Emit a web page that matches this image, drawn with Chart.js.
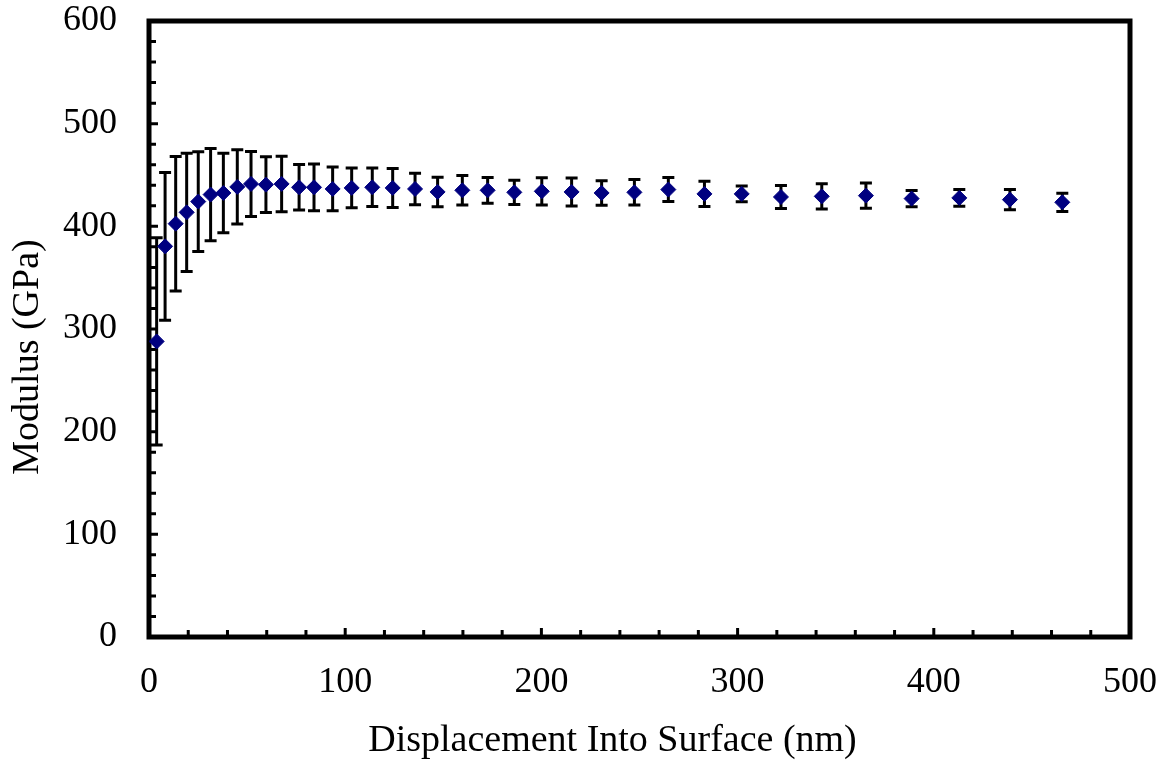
<!DOCTYPE html>
<html>
<head>
<meta charset="utf-8">
<title>Modulus vs Displacement Into Surface</title>
<script src="https://cdn.jsdelivr.net/npm/chart.js@4.4.1/dist/chart.umd.min.js"></script>
<style>
  body { margin: 0; background: #fff; }
  #wrap { width: 1165px; height: 761px; position: relative; }
</style>
</head>
<body>
<div id="wrap"><canvas id="modulusChart"></canvas></div>
<script>
// displacement into surface (nm)
const depth = [3.9, 8.2, 13.6, 19.2, 25.1, 31.4, 37.9, 45, 52, 59.6, 67.6, 76.5,
    84.1, 93.6, 103.3, 113.8, 124.2, 135.6, 147.1, 159.7, 172.6, 186.2, 200.2, 215.4,
    230.7, 247.4, 264.7, 283.1, 302.1, 322.1, 342.9, 365.4, 388.7, 413, 438.8, 465.5];
// modulus (GPa)
const modulus = [287.9, 380.5, 402.6, 413.6, 424.1, 430.9, 432.5, 438.4, 441.3, 440.6, 441.3, 438,
    438, 436.4, 437.4, 438, 437.4, 436.4, 433.5, 435.1, 435.1, 433.1, 434.1, 433.5,
    432.5, 433.1, 435.8, 431.6, 431.6, 428.6, 429.2, 429.9, 427, 427.7, 426, 423.4];
// standard deviation (GPa)
const modulusErr = [101, 72, 65.5, 57.5, 48.5, 45, 38.8, 36.2, 31.7, 27.1, 27, 22.2,
    22.7, 21.3, 19.3, 18.8, 19, 15.4, 14.4, 14.4, 12.5, 11.9, 13.3, 13.6,
    12, 12.4, 11.7, 12.3, 7.6, 11.2, 12.3, 12.2, 7.9, 8.1, 9.9, 8.9];

const xTicks = [0, 100, 200, 300, 400, 500];
const yTicks = [0, 100, 200, 300, 400, 500, 600];

const xLabel = 'Displacement Into Surface (nm)';
const yLabel = 'Modulus (GPa)';

const serif = "'Times New Roman', 'Liberation Serif', serif";
Chart.defaults.font.family = serif;
Chart.defaults.color = '#000';

// frame, inward minor ticks, error bars and axis titles
const axesAndErrors = {
    id: 'axesAndErrors',
    beforeDatasetsDraw(chart) {
        const ctx = chart.ctx;
        const a = chart.chartArea;
        const xs = chart.scales.x, ys = chart.scales.y;
        ctx.save();
        ctx.strokeStyle = '#000';
        ctx.lineWidth = 5;
        ctx.lineJoin = 'miter';
        ctx.strokeRect(a.left, a.top, a.right - a.left, a.bottom - a.top);

        ctx.lineWidth = 3;
        ctx.beginPath();
        for (let v = 20; v < 500; v += 20) {
            const px = xs.getPixelForValue(v);
            const len = v % 100 === 0 ? 9 : 7;
            ctx.moveTo(px, a.bottom);
            ctx.lineTo(px, a.bottom - len);
        }
        for (let v = 20; v < 600; v += 20) {
            const py = ys.getPixelForValue(v);
            const len = v % 100 === 0 ? 9 : 7;
            ctx.moveTo(a.left, py);
            ctx.lineTo(a.left + len, py);
        }
        ctx.stroke();

        // error bars
        ctx.lineWidth = 3;
        ctx.beginPath();
        depth.forEach((d, i) => {
            const px = xs.getPixelForValue(d);
            const top = ys.getPixelForValue(modulus[i] + modulusErr[i]);
            const bot = ys.getPixelForValue(modulus[i] - modulusErr[i]);
            ctx.moveTo(px, top); ctx.lineTo(px, bot);
            ctx.moveTo(px - 6, top); ctx.lineTo(px + 6, top);
            ctx.moveTo(px - 6, bot); ctx.lineTo(px + 6, bot);
        });
        ctx.stroke();

        // axis titles
        ctx.font = '38px ' + serif;
        ctx.fillStyle = '#000';
        ctx.textAlign = 'center';
        ctx.textBaseline = 'middle';
        ctx.fillText(xLabel, 612.5, 741.5);
        ctx.translate(28.5, 357);
        ctx.rotate(-Math.PI / 2);
        ctx.fillText(yLabel, 0, 0);
        ctx.restore();
    }
};

const points = depth.map((d, i) => ({ x: d, y: modulus[i] }));

new Chart(document.getElementById('modulusChart'), {
    type: 'scatter',
    data: {
        datasets: [{
            label: yLabel,
            data: points,
            pointStyle: 'rectRot',
            pointRadius: 7.5,
            pointHoverRadius: 7.5,
            backgroundColor: '#000080',
            borderColor: '#000080',
            borderWidth: 1
        }]
    },
    options: {
        responsive: true,
        maintainAspectRatio: false,
        animation: false,
        layout: { padding: { left: 0, top: 21, right: 35, bottom: 0 } },
        plugins: {
            legend: { display: false },
            tooltip: { enabled: false }
        },
        scales: {
            x: {
                type: 'linear',
                min: 0,
                max: 500,
                grid: { display: false, drawTicks: false },
                border: { display: false },
                afterBuildTicks: s => { s.ticks = xTicks.map(v => ({ value: v })); },
                ticks: { font: { size: 36 }, padding: 24, maxRotation: 0, autoSkip: false },
                afterFit: s => { s.height = 124; s.paddingLeft = 0; s.paddingRight = 0; }
            },
            y: {
                type: 'linear',
                min: 0,
                max: 600,
                grid: { display: false, drawTicks: false },
                border: { display: false },
                afterBuildTicks: s => { s.ticks = yTicks.map(v => ({ value: v })); },
                ticks: { font: { size: 36 }, padding: 32, autoSkip: false },
                afterFit: s => { s.width = 149; s.paddingTop = 0; s.paddingBottom = 0; }
            }
        }
    },
    plugins: [axesAndErrors]
});
</script>
</body>
</html>
